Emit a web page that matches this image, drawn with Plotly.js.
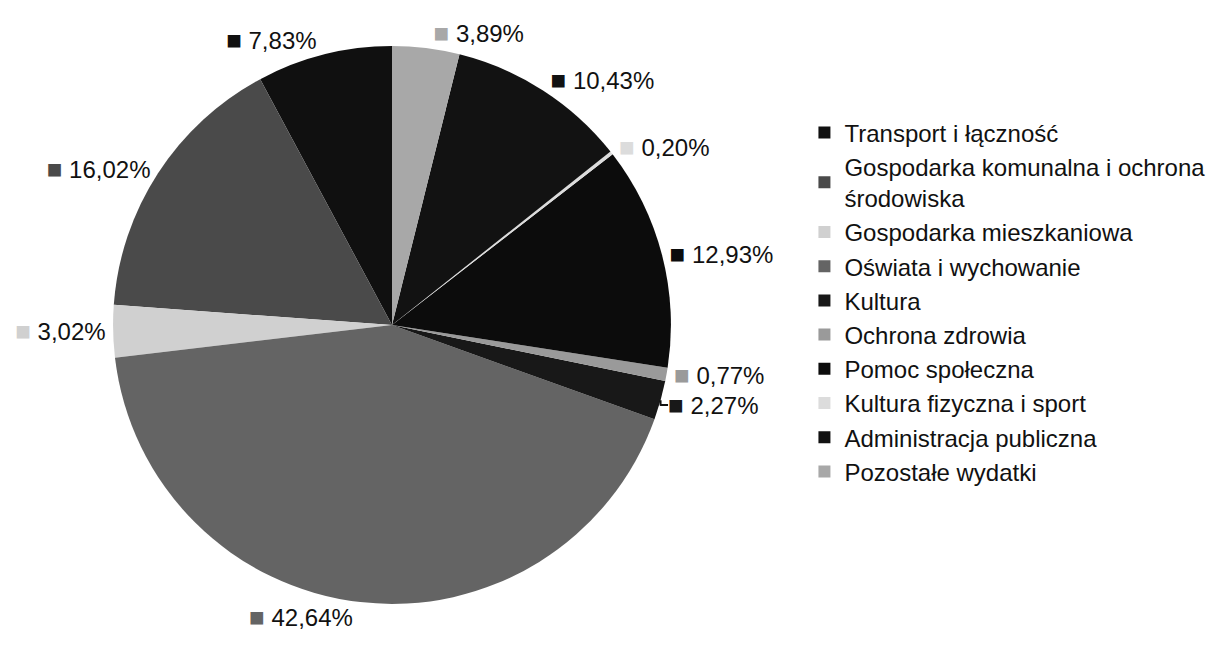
<!DOCTYPE html>
<html>
<head>
<meta charset="utf-8">
<script src="https://cdn.plot.ly/plotly-3.0.1.min.js"></script>
<style>html,body{margin:0;padding:0;background:#fff;}#chart{width:1217px;height:645px;}</style>
</head>
<body>
<div id="chart"></div>
<script>
const categories = [
  "Transport i łączność",
  "Gospodarka komunalna i ochrona<br>środowiska",
  "Gospodarka mieszkaniowa",
  "Oświata i wychowanie",
  "Kultura",
  "Ochrona zdrowia",
  "Pomoc społeczna",
  "Kultura fizyczna i sport",
  "Administracja publiczna",
  "Pozostałe wydatki"
];
const shares = [7.83, 16.02, 3.02, 42.64, 2.27, 0.77, 12.93, 0.20, 10.43, 3.89];
const sliceColors = ["#101010", "#4a4a4a", "#d0d0d0", "#646464", "#181818", "#9a9a9a", "#0c0c0c", "#dcdcdc", "#121212", "#a8a8a8"];

const templates = sliceColors.map(c =>
  '<span style="color:' + c + ';font-size:26px">■</span> %{percent:.2%}');

// Plotly puts the END of the first counterclockwise slice at "rotation";
// shift so the first slice starts at 12 o'clock like the reference.
const total = shares.reduce((a, b) => a + b, 0);
const startRotation = -shares[0] / total * 360;

const trace = {
  type: 'pie',
  labels: categories,
  values: shares,
  sort: false,
  direction: 'counterclockwise',
  rotation: startRotation,
  marker: { colors: sliceColors, line: { width: 0 } },
  textposition: 'outside',
  texttemplate: templates,
  textfont: { family: 'Liberation Sans, Arial, sans-serif', size: 24, color: '#111' },
  domain: { x: [0.0929, 0.5513], y: [0.0636, 0.9287] },
  hoverinfo: 'label+percent'
};

const layout = {
  width: 1217, height: 645,
  margin: { l: 0, r: 0, t: 0, b: 0 },
  paper_bgcolor: '#fff',
  separators: ', ',
  showlegend: true,
  legend: {
    x: 0.661, xanchor: 'left', y: 0.829, yanchor: 'top',
    font: { family: 'Liberation Sans, Arial, sans-serif', size: 24, color: '#111' },
    itemwidth: 30
  },
  font: { family: 'Liberation Sans, Arial, sans-serif' }
};

Plotly.newPlot('chart', [trace], layout, { displayModeBar: false, staticPlot: true });
</script>
</body>
</html>
